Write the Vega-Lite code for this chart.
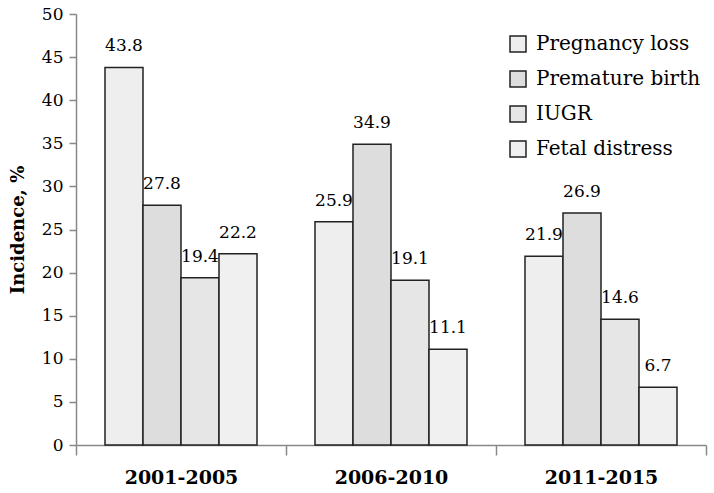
{
  "$schema": "https://vega.github.io/schema/vega-lite/v6.json",
  "width": 630,
  "height": 431,
  "autosize": {"type": "none"},
  "padding": {"left": 76, "top": 14, "right": 8, "bottom": 48},
  "background": "white",
  "config": {"view": {"stroke": null}, "font": "DejaVu Serif"},
  "data": {"values": [
    {"period": "2001-2005", "type": "Pregnancy loss", "value": 43.8},
    {"period": "2001-2005", "type": "Premature birth", "value": 27.8},
    {"period": "2001-2005", "type": "IUGR", "value": 19.4},
    {"period": "2001-2005", "type": "Fetal distress", "value": 22.2},
    {"period": "2006-2010", "type": "Pregnancy loss", "value": 25.9},
    {"period": "2006-2010", "type": "Premature birth", "value": 34.9},
    {"period": "2006-2010", "type": "IUGR", "value": 19.1},
    {"period": "2006-2010", "type": "Fetal distress", "value": 11.1},
    {"period": "2011-2015", "type": "Pregnancy loss", "value": 21.9},
    {"period": "2011-2015", "type": "Premature birth", "value": 26.9},
    {"period": "2011-2015", "type": "IUGR", "value": 14.6},
    {"period": "2011-2015", "type": "Fetal distress", "value": 6.7}
  ]},
  "encoding": {
    "x": {"field": "period", "type": "nominal", "title": null,
      "scale": {"paddingInner": 0, "paddingOuter": 0},
      "axis": {"labelAngle": 0, "labelFont": "DejaVu Serif", "labelFontSize": 19, "labelFontWeight": "bold", "labelColor": "black", "labelPadding": 13, "tickBand": "extent", "tickSize": 10, "tickColor": "#888888", "domainColor": "#888888", "domainWidth": 1.5, "tickWidth": 1.5}},
    "xOffset": {"field": "type", "type": "nominal", "sort": ["Pregnancy loss", "Premature birth", "IUGR", "Fetal distress"],
      "scale": {"paddingInner": 0, "paddingOuter": 0.763}},
    "y": {"field": "value", "type": "quantitative", "title": "Incidence, %",
      "scale": {"domain": [0, 50]},
      "axis": {"values": [0,5,10,15,20,25,30,35,40,45,50], "grid": false, "labelFont": "DejaVu Serif", "labelFontSize": 17, "labelColor": "black", "tickSize": 7, "labelPadding": 6, "tickColor": "#888888", "domainColor": "#888888", "domainWidth": 1.5, "tickWidth": 1.5,
        "titleFont": "DejaVu Serif", "titleFontSize": 18, "titleFontWeight": "bold", "titleColor": "black", "titlePadding": 14}}
  },
  "layer": [
    {"mark": {"type": "bar", "stroke": "#222222", "strokeWidth": 1.5},
     "encoding": {"fill": {"field": "type", "type": "nominal", "sort": ["Pregnancy loss", "Premature birth", "IUGR", "Fetal distress"],
        "scale": {"range": ["#eeeeee", "#dddddd", "#e6e6e6", "#f0f0f0"]},
        "legend": {"title": null, "orient": "none", "legendX": 432, "legendY": 20, "symbolType": "square", "symbolSize": 256, "symbolStrokeColor": "#222222", "symbolStrokeWidth": 1.5, "labelFont": "DejaVu Serif", "labelFontSize": 20, "labelColor": "black", "rowPadding": 13, "labelOffset": 8, "labelLimit": 300}}}},
    {"mark": {"type": "text", "baseline": "bottom", "dy": -12, "font": "DejaVu Serif", "fontSize": 17, "color": "black"},
     "encoding": {"text": {"field": "value", "type": "quantitative", "format": ".1f"}}}
  ]
}
